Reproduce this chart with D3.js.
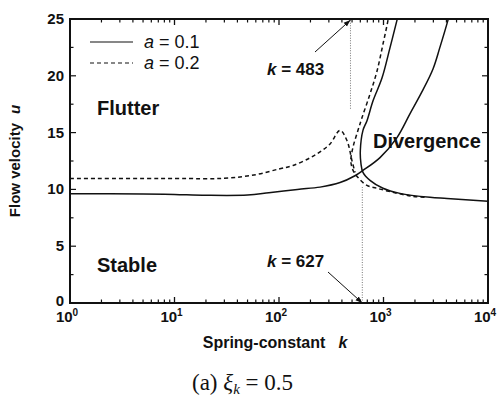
<!DOCTYPE html>
<html>
<head>
<meta charset="utf-8">
<script src="https://cdn.jsdelivr.net/npm/d3@7"></script>
<style>
  body { margin: 0; background: #fff; }
  svg text { font-family: "Liberation Sans", Arial, sans-serif; fill: #111; }
</style>
</head>
<body>
<svg width="500" height="400"></svg>
<script>
// values: [k, u]
const a1Flutter = [[1, 9.62], [5, 9.6], [10, 9.55], [20, 9.48], [50, 9.5], [80, 9.7], [150, 10.0], [247, 10.2],
  [384, 10.6], [533, 11.2], [636, 11.67], [926, 12.8], [1346, 14.56], [1795, 16.67], [2336, 18.6],
  [2976, 20.6], [3464, 22.5], [4140, 24.9], [4300, 25.5]];
const a1Divergence = [[1400, 25.5], [1346, 24.9], [1153, 22.46], [967, 19.8], [794, 17.8], [695, 16.05], [636, 15.2],
  [600, 13.4], [608, 12.3], [636, 11.5], [743, 10.8], [989, 10.1], [1438, 9.65], [2786, 9.3],
  [4054, 9.2], [10000, 8.95]];
const a2Flutter = [[1, 10.96], [10, 10.96], [30, 10.98], [60, 11.3], [100, 11.8], [136, 12.1], [200, 12.8],
  [247, 13.3], [308, 14.0], [384, 15.2], [447, 14.3], [500, 12.5], [534, 11.5]];
const a2Divergence = [[1130, 25.5], [1105, 24.9], [989, 22.8], [866, 20.4], [743, 18.4], [622, 16.3], [570, 15.2],
  [510, 13.7], [487, 12.5], [510, 11.7], [570, 11.05], [695, 10.35], [866, 10.1], [1233, 9.74],
  [1915, 9.39], [2600, 9.3]];
const xTicks = [1, 10, 100, 1000, 10000];
const yTicks = [0, 5, 10, 15, 20, 25];
const markers = [{k: 483, from: 17.1, to: 25, label: "483"}, {k: 627, from: 0, to: 10.2, label: "627"}];

const svg = d3.select("svg");
const x = d3.scaleLog().domain([1, 1e4]).range([70, 488]);
const y = d3.scaleLinear().domain([0, 25]).range([303, 19]);
const line = d3.line().x(d => x(d[0])).y(d => y(d[1])).curve(d3.curveCatmullRom.alpha(0.5));

svg.append("defs").append("clipPath").attr("id", "clip")
  .append("rect").attr("x", 70).attr("y", 19).attr("width", 418).attr("height", 284);
svg.select("defs").append("marker").attr("id", "arrow").attr("viewBox", "0 0 10 10")
  .attr("refX", 10).attr("refY", 5).attr("markerWidth", 7).attr("markerHeight", 7).attr("orient", "auto")
  .append("path").attr("d", "M0,1.5L10,5L0,8.5Z").attr("fill", "#111");

const plot = svg.append("g").attr("clip-path", "url(#clip)");

// curves
[[a1Flutter, null], [a1Divergence, null], [a2Flutter, "4,3"], [a2Divergence, "4,3"]].forEach(([d, dash]) => {
  plot.append("path").datum(d).attr("d", line).attr("fill", "none")
    .attr("stroke", "#111").attr("stroke-width", 1.5).attr("stroke-dasharray", dash);
});

// dotted markers
markers.forEach(m => {
  plot.append("line").attr("x1", x(m.k)).attr("x2", x(m.k)).attr("y1", y(m.from)).attr("y2", y(m.to))
    .attr("stroke", "#555").attr("stroke-width", 0.8).attr("stroke-dasharray", "1,1.5");
});

// frame and ticks
const ax = svg.append("g").attr("stroke", "#111");
ax.append("rect").attr("x", 70).attr("y", 19).attr("width", 418).attr("height", 284)
  .attr("fill", "none").attr("stroke-width", 2);
const minorX = [];
for (let e = 0; e < 4; e++) for (let m = 2; m < 10; m++) minorX.push(m * Math.pow(10, e));
xTicks.forEach(t => {
  ax.append("line").attr("x1", x(t)).attr("x2", x(t)).attr("y1", 303).attr("y2", 297).attr("stroke-width", 1.3);
  ax.append("line").attr("x1", x(t)).attr("x2", x(t)).attr("y1", 19).attr("y2", 25).attr("stroke-width", 1.3);
});
minorX.forEach(t => {
  ax.append("line").attr("x1", x(t)).attr("x2", x(t)).attr("y1", 303).attr("y2", 299.5).attr("stroke-width", 1.2);
  ax.append("line").attr("x1", x(t)).attr("x2", x(t)).attr("y1", 19).attr("y2", 22.5).attr("stroke-width", 1.2);
});
d3.range(0, 25.1, 2.5).forEach(v => {
  const len = v % 5 === 0 ? 6 : 3.5;
  ax.append("line").attr("x1", 70).attr("x2", 70 + len).attr("y1", y(v)).attr("y2", y(v)).attr("stroke-width", 1.2);
  ax.append("line").attr("x1", 488).attr("x2", 488 - len).attr("y1", y(v)).attr("y2", y(v)).attr("stroke-width", 1.2);
});

// tick labels
yTicks.forEach(v => {
  svg.append("text").attr("x", 64).attr("y", y(v) + (v === 0 ? 3 : 5)).attr("text-anchor", "end")
    .attr("font-size", 15).attr("font-weight", "bold").text(v);
});
xTicks.forEach((t, i) => {
  const tx = svg.append("text").attr("x", x(t) - 3).attr("y", 322).attr("text-anchor", "middle")
    .attr("font-size", 15).attr("font-weight", "bold");
  tx.append("tspan").text("10");
  tx.append("tspan").attr("dy", -6).attr("font-size", 10).text(i);
});

// axis titles
const xt = svg.append("text").attr("x", 275).attr("y", 348).attr("text-anchor", "middle")
  .attr("font-size", 16).attr("font-weight", "bold");
xt.append("tspan").text("Spring-constant");
xt.append("tspan").attr("dx", 13).attr("font-style", "italic").text("k");
const yt = svg.append("text").attr("transform", "translate(20,161) rotate(-90)").attr("text-anchor", "middle")
  .attr("font-size", 15).attr("font-weight", "bold");
yt.append("tspan").text("Flow velocity");
yt.append("tspan").attr("dx", 9).attr("font-style", "italic").text("u");

// caption
const cap = svg.append("text").attr("x", 192).attr("y", 390)
  .style("font-family", "'Liberation Serif', 'Times New Roman', serif").attr("font-size", 23);
cap.append("tspan").text("(a)  ");
cap.append("tspan").attr("font-style", "italic").text("ξ");
cap.append("tspan").attr("dy", 4).attr("font-size", 15).attr("font-style", "italic").text("k");
cap.append("tspan").attr("dy", -4).text(" = 0.5");

// legend
const legend = [{label: "0.1", dash: null, yy: 42}, {label: "0.2", dash: "4,3", yy: 63}];
legend.forEach(l => {
  svg.append("line").attr("x1", 90).attr("x2", 133).attr("y1", l.yy).attr("y2", l.yy)
    .attr("stroke", "#111").attr("stroke-width", 1.2).attr("stroke-dasharray", l.dash);
  const t = svg.append("text").attr("x", 144).attr("y", l.yy + 6).attr("font-size", 18);
  t.append("tspan").attr("font-style", "italic").text("a");
  t.append("tspan").text(" = " + l.label);
});

// region labels
[["Flutter", 97, 115], ["Stable", 97, 272], ["Divergence", 373, 148]].forEach(([s, tx, ty]) => {
  svg.append("text").attr("x", tx).attr("y", ty).attr("font-size", 20).attr("font-weight", "bold").text(s);
});

// marker labels and arrows
[[markers[0], 75, [315, 52], 20], [markers[1], 267, [328, 272], 303]].forEach(([m, ty, from, toY]) => {
  const t = svg.append("text").attr("x", 267).attr("y", ty).attr("font-size", 17).attr("font-weight", "bold");
  t.append("tspan").attr("font-style", "italic").text("k");
  t.append("tspan").text(" = " + m.label);
  svg.append("line").attr("x1", from[0]).attr("y1", from[1]).attr("x2", x(m.k)).attr("y2", toY)
    .attr("stroke", "#111").attr("stroke-width", 1).attr("marker-end", "url(#arrow)");
});
</script>
</body>
</html>
